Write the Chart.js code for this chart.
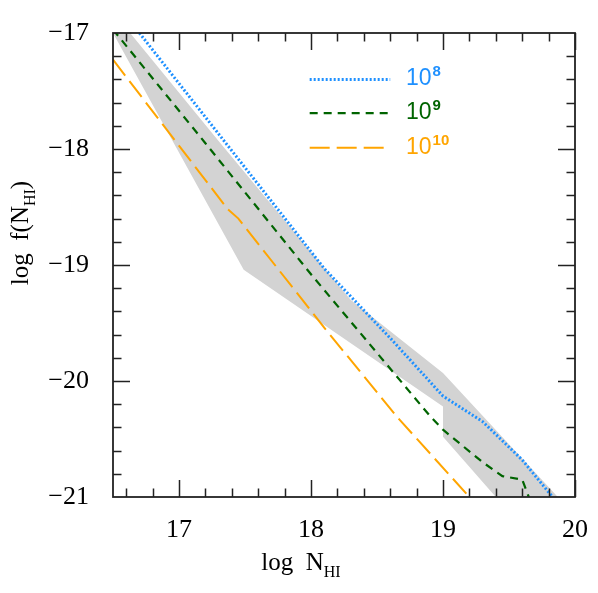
<!DOCTYPE html>
<html><head><meta charset="utf-8">
<script src="https://cdn.jsdelivr.net/npm/chart.js@4/dist/chart.umd.min.js"></script>
<style>html,body{margin:0;padding:0;background:#fff;overflow:hidden}canvas{display:block}</style>
</head><body>
<canvas id="c" width="598" height="593"></canvas>
<script>
// ---- data ----
const xTickValues = [17, 18, 19, 20];
const yTickValues = [-21, -20, -19, -18, -17];
const legendBase = '10';
const legendExp = ['8', '9', '10'];

const xBlue  = [16.7, 18.1, 18.6, 19.0, 19.3, 19.6, 19.83];
const yBlue  = [-17.0, -19.03, -19.63, -20.13, -20.35, -20.68, -21.0];

const xGreen = [16.5, 17.2, 18.0, 18.9, 19.0, 19.3, 19.45, 19.6, 19.65];
const yGreen = [-16.97, -17.95, -19.08, -20.3, -20.42, -20.7, -20.82, -20.85, -21.0];

const xOrange = [16.5, 17.37, 17.45, 18.1, 18.66, 19.2];
const yOrange = [-17.23, -18.52, -18.6, -19.54, -20.32, -21.0];

// shaded range: upper edge (left->right), then lower edge (right->left)
const xBandUpper = [16.63, 17.3, 18.3, 19.0, 19.87];
const yBandUpper = [-17.0, -17.93, -19.3, -19.93, -21.0];
const xBandLower = [19.4, 19.0, 19.0, 17.49, 16.5];
const yBandLower = [-21.0, -20.48, -20.22, -19.04, -17.0];

const pts = (xs, ys) => xs.map((x, i) => ({x, y: ys[i]}));

const COLORS = ['#1E90FF', '#006400', '#FFA500'];
const DASHES = [[2, 2], [8, 6], [20, 7]];
const WIDTHS = [3, 2.2, 2];
const SERIF = '"Liberation Serif", "Times New Roman", serif';
const SANS = '"Liberation Sans", Arial, sans-serif';
const MINUS = '\u2212';

const framePlugin = {
  id: 'frame',
  afterDatasetsDraw(chart) {
    const {ctx, chartArea: a, scales: {x, y}} = chart;
    ctx.save();
    ctx.strokeStyle = '#222';
    ctx.lineWidth = 1.8;
    ctx.strokeRect(a.left, a.top, a.right - a.left, a.bottom - a.top);
    ctx.lineWidth = 1.5;
    ctx.beginPath();
    for (let k = 0; k <= 17; k++) {
      const v = 16.6 + k * 0.2;
      if (v > 20.001) break;
      const major = Math.abs(v - Math.round(v)) < 1e-6;
      const len = major ? 17 : 8.5;
      const px = Math.round(x.getPixelForValue(v)) + 0.5;
      ctx.moveTo(px, a.bottom); ctx.lineTo(px, a.bottom - len);
      ctx.moveTo(px, a.top); ctx.lineTo(px, a.top + len);
    }
    for (let k = 1; k < 20; k++) {
      const v = -21 + k * 0.2;
      const major = Math.abs(v - Math.round(v)) < 1e-6;
      const len = major ? 17 : 8.5;
      const py = Math.round(y.getPixelForValue(v)) + 0.5;
      ctx.moveTo(a.left, py); ctx.lineTo(a.left + len, py);
      ctx.moveTo(a.right, py); ctx.lineTo(a.right - len, py);
    }
    ctx.stroke();

    // legend
    const rows = [-17.4, -17.69, -17.99];
    for (let i = 0; i < 3; i++) {
      const py = y.getPixelForValue(rows[i]);
      ctx.strokeStyle = COLORS[i];
      ctx.lineWidth = WIDTHS[i];
      ctx.setLineDash(DASHES[i]);
      ctx.beginPath();
      ctx.moveTo(x.getPixelForValue(17.99), py);
      ctx.lineTo(x.getPixelForValue(18.6), py);
      ctx.stroke();
      ctx.setLineDash([]);
      ctx.fillStyle = COLORS[i];
      ctx.textBaseline = 'alphabetic';
      ctx.textAlign = 'left';
      ctx.font = '23px ' + SANS;
      const tx = x.getPixelForValue(18.72);
      ctx.fillText(legendBase, tx, py + 6);
      const w = ctx.measureText(legendBase).width;
      ctx.font = 'bold 15px ' + SANS;
      ctx.fillText(legendExp[i], tx + w + 1, py - 3);
    }

    // axis titles
    ctx.fillStyle = '#000';
    ctx.textBaseline = 'alphabetic';
    ctx.textAlign = 'left';
    const t1 = 'log  N';
    ctx.font = '25px ' + SERIF;
    const w1 = ctx.measureText(t1).width;
    ctx.font = '16px ' + SERIF;
    const w2 = ctx.measureText('HI').width;
    let sx = 301 - (w1 + w2) / 2;
    ctx.font = '25px ' + SERIF;
    ctx.fillText(t1, sx, 570);
    ctx.font = '16px ' + SERIF;
    ctx.fillText('HI', sx + w1, 577);

    ctx.save();
    ctx.translate(28, 233);
    ctx.rotate(-Math.PI / 2);
    ctx.font = '25px ' + SERIF;
    const a1 = 'log  f(N', a2 = 'HI', a3 = ')';
    const wa1 = ctx.measureText(a1).width;
    const wa3 = ctx.measureText(a3).width;
    ctx.font = '16px ' + SERIF;
    const wa2 = ctx.measureText(a2).width;
    let sy = -(wa1 + wa2 + wa3) / 2;
    ctx.font = '25px ' + SERIF;
    ctx.fillText(a1, sy, 0);
    ctx.font = '16px ' + SERIF;
    ctx.fillText(a2, sy + wa1, 7);
    ctx.font = '25px ' + SERIF;
    ctx.fillText(a3, sy + wa1 + wa2, 0);
    ctx.restore();

    ctx.restore();
  }
};

new Chart(document.getElementById('c'), {
  type: 'line',
  data: {
    datasets: [
      {label: legendBase + legendExp[0], data: pts(xBlue, yBlue), borderColor: COLORS[0], borderWidth: WIDTHS[0], borderDash: DASHES[0], pointRadius: 0, fill: false, tension: 0},
      {label: legendBase + legendExp[1], data: pts(xGreen, yGreen), borderColor: COLORS[1], borderWidth: WIDTHS[1], borderDash: DASHES[1], pointRadius: 0, fill: false, tension: 0},
      {label: legendBase + legendExp[2], data: pts(xOrange, yOrange), borderColor: COLORS[2], borderWidth: WIDTHS[2], borderDash: DASHES[2], pointRadius: 0, fill: false, tension: 0},
      {label: 'range', data: pts(xBandUpper.concat(xBandLower), yBandUpper.concat(yBandLower)), borderWidth: 0, borderColor: 'rgba(0,0,0,0)', backgroundColor: '#d3d3d3', pointRadius: 0, fill: 'shape', tension: 0}
    ]
  },
  options: {
    responsive: false,
    animation: false,
    devicePixelRatio: 1,
    layout: {padding: {top: 33, right: 21, left: 0, bottom: 0}},
    plugins: {legend: {display: false}, tooltip: {enabled: false}},
    scales: {
      x: {
        type: 'linear', min: 16.5, max: 20,
        grid: {display: false}, border: {display: false},
        afterBuildTicks: s => { s.ticks = xTickValues.map(v => ({value: v})); },
        afterFit: s => { s.height = 96; },
        ticks: {color: '#000', padding: 10, maxRotation: 0, autoSkip: false, font: {family: SERIF, size: 26}, callback: v => String(v)}
      },
      y: {
        type: 'linear', min: -21, max: -17,
        grid: {display: false}, border: {display: false},
        afterBuildTicks: s => { s.ticks = yTickValues.map(v => ({value: v})); },
        afterFit: s => { s.width = 113; },
        ticks: {color: '#000', padding: 16, autoSkip: false, font: {family: SERIF, size: 26}, callback: v => MINUS + String(Math.abs(v))}
      }
    }
  },
  plugins: [framePlugin]
});
</script>
</body></html>
